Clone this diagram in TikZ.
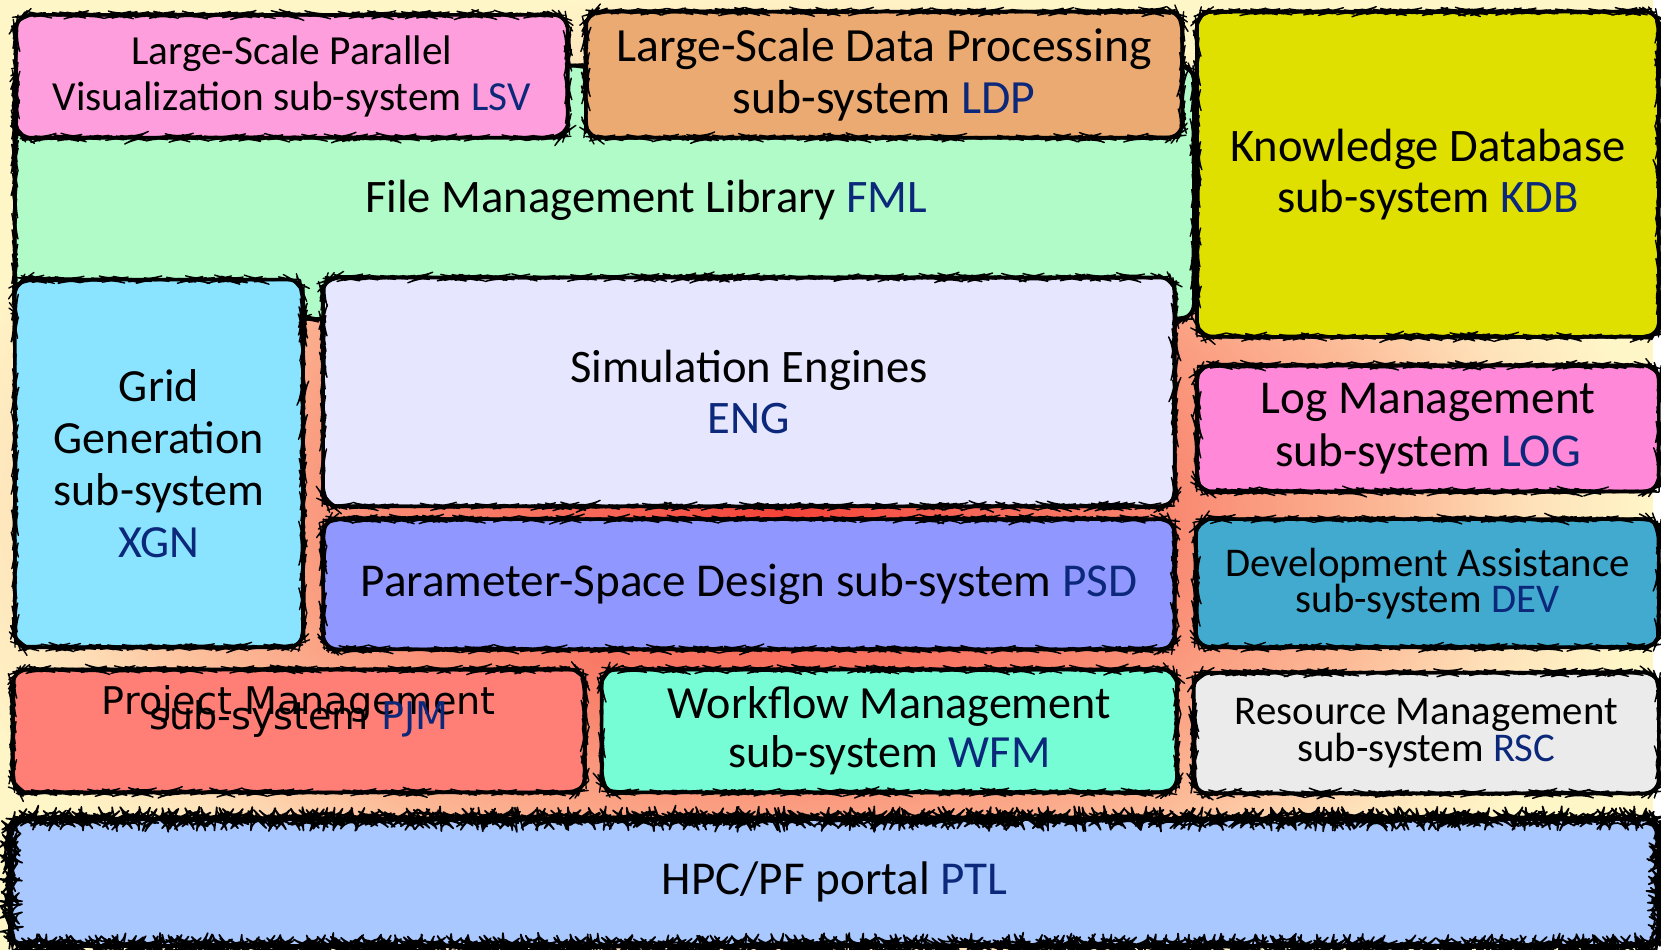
\documentclass[tikz,border=0pt]{standalone}
\usepackage{fontspec}
\setmainfont{Carlito}
\newfontfamily\vera{DejaVu Sans}
\usetikzlibrary{decorations.pathmorphing}

\definecolor{abbr}{RGB}{12,40,122}
\definecolor{bgred}{RGB}{244,66,56}
\definecolor{bgred2}{RGB}{247,100,85}
\definecolor{bgsalmon}{RGB}{249,135,112}
\definecolor{bgpeach}{RGB}{252,185,150}
\definecolor{bglight}{RGB}{254,225,185}
\definecolor{bgyellow}{RGB}{255,246,200}
\definecolor{cLSV}{RGB}{255,158,220}
\definecolor{cLDP}{RGB}{235,170,114}
\definecolor{cFML}{RGB}{176,251,200}
\definecolor{cKDB}{RGB}{224,224,0}
\definecolor{cXGN}{RGB}{138,228,255}
\definecolor{cENG}{RGB}{230,230,255}
\definecolor{cPSD}{RGB}{144,152,255}
\definecolor{cLOG}{RGB}{255,136,216}
\definecolor{cDEV}{RGB}{66,170,206}
\definecolor{cPJM}{RGB}{255,127,118}
\definecolor{cWFM}{RGB}{118,253,214}
\definecolor{cRSC}{RGB}{235,235,235}
\definecolor{cPTL}{RGB}{168,200,255}

\pgfdeclareradialshading{glow}{\pgfpoint{0bp}{0bp}}{%
  color(0bp)=(bgred);
  color(5bp)=(bgred2);
  color(11bp)=(bgsalmon);
  color(17.5bp)=(bgpeach);
  color(21.5bp)=(bglight);
  color(25bp)=(bgyellow);
  color(50bp)=(bgyellow)}

\newcommand{\ab}[1]{\textcolor{abbr}{#1}}
\newcommand{\fs}[2]{\fontsize{#1}{#2}\selectfont}
\newcommand{\tightlines}{\lineskiplimit=-100pt\relax}

\tikzset{
  sketchbox/.style={rectangle, rounded corners=14pt, draw=black, line width=3.4pt,
    line join=round, inner sep=0pt, align=center,
    postaction={draw=black, line width=1.3pt, line join=round, decorate,
      decoration={random steps, segment length=3.5pt, amplitude=0.7pt}}},
  roughbox/.style={rectangle, rounded corners=12pt, draw=black, line width=3.6pt,
    line join=round, inner sep=0pt, align=center,
    postaction={draw=black, line width=1.6pt, line join=round, decorate,
      decoration={random steps, segment length=1.8pt, amplitude=1.5pt}}},
  txt/.style={align=center, inner sep=0pt},
}

\begin{document}
\begin{tikzpicture}[x=1pt, y=-1pt]
\useasboundingbox (0,0) rectangle (1568,896);

% warm radial background
\begin{scope}
  \clip (0,0) rectangle (1568,896);
  \shade[shading=glow] (740-820,485-500) rectangle (740+820,485+500);
\end{scope}

% file management library (back layer)
\node[sketchbox, fill=cFML, minimum width=1113pt, minimum height=239pt] (fml) at (570.5,181.5) {};
\node[txt, font=\fs{44}{50}] (fmltext) at (610,189) {File Management Library \ab{FML}};

% top row
\node[sketchbox, fill=cLSV, minimum width=521pt, minimum height=116pt, font=\fs{39}{43}] (lsv) at (275.5,72)
  {Large-Scale Parallel\\Visualization sub-system \ab{LSV}};
\node[sketchbox, fill=cLDP, minimum width=563pt, minimum height=119pt, font=\fs{45}{49}] (ldp) at (834.5,70.5)
  {Large-Scale Data Processing\\sub-system \ab{LDP}};
\node[sketchbox, fill=cKDB, minimum width=436pt, minimum height=307pt, font=\fs{44}{48}] (kdb) at (1348,164.5)
  {Knowledge Database\\sub-system \ab{KDB}};

% middle block
\node[sketchbox, fill=cXGN, minimum width=272pt, minimum height=347pt, font=\fs{43.5}{49}] (xgn) at (150,437.5)
  {Grid\\Generation\\sub-system\\\ab{XGN}};
\node[sketchbox, fill=cENG, minimum width=804pt, minimum height=216pt, font=\fs{44}{48}] (eng) at (707,370)
  {Simulation Engines\\\ab{ENG}};
\node[sketchbox, fill=cPSD, minimum width=804pt, minimum height=123pt, font=\fs{44.5}{48}] (psd) at (707,551.5)
  {Parameter-Space Design sub-system \ab{PSD}};
\node[sketchbox, fill=cLOG, minimum width=436pt, minimum height=119pt, font=\fs{44.5}{50}] (log) at (1348,404.5)
  {Log Management\\sub-system \ab{LOG}};
\node[sketchbox, fill=cDEV, minimum width=437pt, minimum height=121pt, font={\fs{38.5}{34}\tightlines}] (dev) at (1347.5,550.5)
  {Development Assistance\\sub-system \ab{DEV}};

% lower row
\node[sketchbox, fill=cPJM, minimum width=540pt, minimum height=116pt] (pjm) at (282,690) {};
\node[txt, font={\vera\fs{36}{14}\tightlines}] (pjmtext) at (282,672)
  {Project Management\\sub-system \ab{PJM}};
\node[sketchbox, fill=cWFM, minimum width=543pt, minimum height=116pt, font=\fs{43.5}{46}] (wfm) at (839.5,690)
  {Workflow Management\\sub-system \ab{WFM}};
\node[sketchbox, fill=cRSC, minimum width=439pt, minimum height=114pt, font={\fs{38.5}{35}\tightlines}] (rsc) at (1346.5,692)
  {Resource Management\\sub-system \ab{RSC}};

% portal
\node[roughbox, fill=cPTL, minimum width=1556pt, minimum height=120pt, font=\fs{44.5}{48}] (ptl) at (788,833)
  {HPC/PF portal \ab{PTL}};
\end{tikzpicture}
\end{document}
